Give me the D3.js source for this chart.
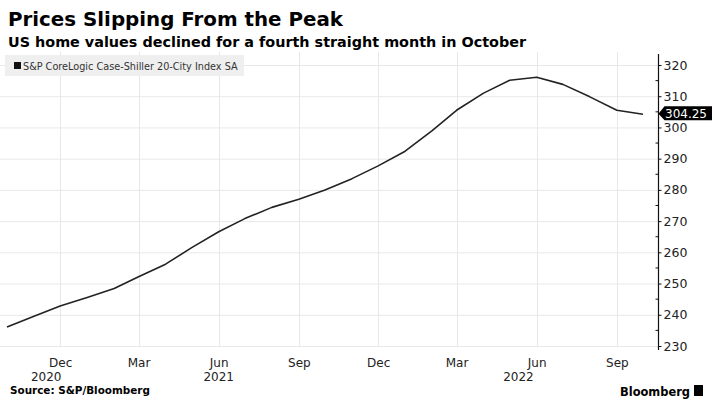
<!DOCTYPE html>
<html><head><meta charset="utf-8">
<script src="https://cdn.jsdelivr.net/npm/d3@7/dist/d3.min.js"></script>
<style>
html,body{margin:0;padding:0;background:#fff;}
svg{display:block;}
text{font-family:"DejaVu Sans",Verdana,sans-serif;}
</style></head>
<body>
<svg id="c" width="715" height="406"></svg>
<script>
// ---- data ----
const months = ["2020-10","2020-11","2020-12","2021-01","2021-02","2021-03","2021-04","2021-05","2021-06","2021-07","2021-08","2021-09","2021-10","2021-11","2021-12","2022-01","2022-02","2022-03","2022-04","2022-05","2022-06","2022-07","2022-08","2022-09","2022-10"];
const indexValues = [236.1,239.5,242.8,245.5,248.4,252.2,256.2,261.5,266.6,270.8,274.4,277.0,280.0,283.6,287.7,292.4,299.0,305.5,311.0,315.1,316.1,313.8,309.8,305.5,304.25];
const yTicks = [230,240,250,260,270,280,290,300,310,320];
const xTickDates = ["2020-12","2021-03","2021-06","2021-09","2021-12","2022-03","2022-06","2022-09"];
const xTickLabels = ["Dec","Mar","Jun","Sep","Dec","Mar","Jun","Sep"];
const yearLabels = ["2020","2021","2022"];
const yearLabelDates = ["2020-11-15","2021-06-01","2022-05-11"];
const seriesName = "S&P CoreLogic Case-Shiller 20-City Index SA";
const lastLabel = "304.25";

const parseM = d3.timeParse("%Y-%m");
const parseD = d3.timeParse("%Y-%m-%d");
const data = months.map((m,i)=>({date:parseM(m), value:indexValues[i]}));

const svg = d3.select("#c");
const plotLeft=0, axisX=658.5, gridTop=52, gridBottom=347;

const x = d3.scaleTime().domain([parseM("2020-10"), parseM("2022-10")]).range([7, 643]);
const y = d3.scaleLinear().domain([230,320]).range([346,65]);

// fit text helper
function fit(sel, target){
  const n = sel.node(); let fs = parseFloat(sel.attr("font-size"));
  for(let k=0;k<3;k++){ const w=n.getComputedTextLength(); fs = fs*target/w; sel.attr("font-size",fs); }
}

// title
fit(svg.append("text").attr("x",8).attr("y",26).attr("font-size",20).attr("font-weight","bold").attr("fill","#000").text("Prices Slipping From the Peak"),335);
fit(svg.append("text").attr("x",8).attr("y",47).attr("font-size",15).attr("font-weight","bold").attr("fill","#000").text("US home values declined for a fourth straight month in October"),518);

// grid
const g = svg.append("g");
g.selectAll("line.hg").data(yTicks).join("line")
  .attr("x1",plotLeft).attr("x2",axisX).attr("y1",d=>y(d)+0.5).attr("y2",d=>y(d)+0.5)
  .attr("stroke","#e8e8e8").attr("stroke-width",1);
g.selectAll("line.vg").data(xTickDates).join("line")
  .attr("x1",d=>Math.round(x(parseM(d)))+0.5).attr("x2",d=>Math.round(x(parseM(d)))+0.5)
  .attr("y1",gridTop).attr("y2",gridBottom)
  .attr("stroke","#e8e8e8").attr("stroke-width",1);

// legend
svg.append("rect").attr("x",5).attr("y",55).attr("width",239).attr("height",21).attr("fill","#efefef");
svg.append("rect").attr("x",14).attr("y",62).attr("width",7).attr("height",7).attr("fill","#111");
fit(svg.append("text").attr("x",23).attr("y",70).attr("font-size",11).attr("fill","#333").text(seriesName),215);

// line
svg.append("path").datum(data)
  .attr("d", d3.line().x(d=>x(d.date)).y(d=>y(d.value)))
  .attr("fill","none").attr("stroke","#222").attr("stroke-width",1.6).attr("stroke-linejoin","round");

// right axis
const ax = svg.append("g").attr("transform",`translate(${axisX},0)`);
ax.call(d3.axisRight(y).tickValues(yTicks).tickSize(3).tickPadding(2))
  .call(s=>s.select(".domain").remove());
ax.selectAll(".tick line").attr("stroke","#111");
ax.selectAll(".tick text").attr("font-size",12.5).attr("fill","#222").attr("font-family","DejaVu Sans, sans-serif");
ax.append("line").attr("x1",0).attr("x2",0).attr("y1",54).attr("y2",350).attr("stroke","#111").attr("stroke-width",1.2);
ax.selectAll("line.minor").data(d3.range(235,320,10)).join("line")
  .attr("x1",-3).attr("x2",0).attr("y1",d=>y(d)).attr("y2",d=>y(d)).attr("stroke","#111");

// last value label
const lv = y(indexValues[indexValues.length-1]) - 0.5;
svg.append("path").attr("d",`M${axisX},${lv} L${axisX+6},${lv-7.5} L712,${lv-7.5} L712,${lv+6.5} L${axisX+6},${lv+6.5} Z`).attr("fill","#000");
svg.append("text").attr("x",686).attr("y",lv+4).attr("text-anchor","middle").attr("font-size",12).attr("fill","#fff").text(lastLabel);

// x axis labels
const xa = svg.append("g").attr("transform",`translate(0,${gridBottom})`);
xa.call(d3.axisBottom(x).tickValues(xTickDates.map(parseM)).tickFormat((d,i)=>xTickLabels[i]).tickSize(0).tickPadding(11))
  .call(s=>s.select(".domain").remove());
xa.selectAll(".tick text").attr("font-size",12).attr("fill","#222").attr("font-family","DejaVu Sans, sans-serif");
svg.selectAll("text.year").data(yearLabels).join("text")
  .attr("x",(d,i)=>x(parseD(yearLabelDates[i]))).attr("y",381).attr("text-anchor","middle")
  .attr("font-size",12).attr("fill","#222").text(d=>d);

// footer
fit(svg.append("text").attr("x",10).attr("y",394).attr("font-size",11).attr("font-weight","bold").attr("fill","#000").text("Source: S&P/Bloomberg"),140);
const bb = svg.append("text").attr("x",620).attr("y",396).attr("font-size",14).attr("font-weight","bold").attr("fill","#000").text("Bloomberg");
fit(bb,70);
svg.append("rect").attr("x",694).attr("y",385).attr("width",9).attr("height",11).attr("fill","#000");
</script>
</body></html>
